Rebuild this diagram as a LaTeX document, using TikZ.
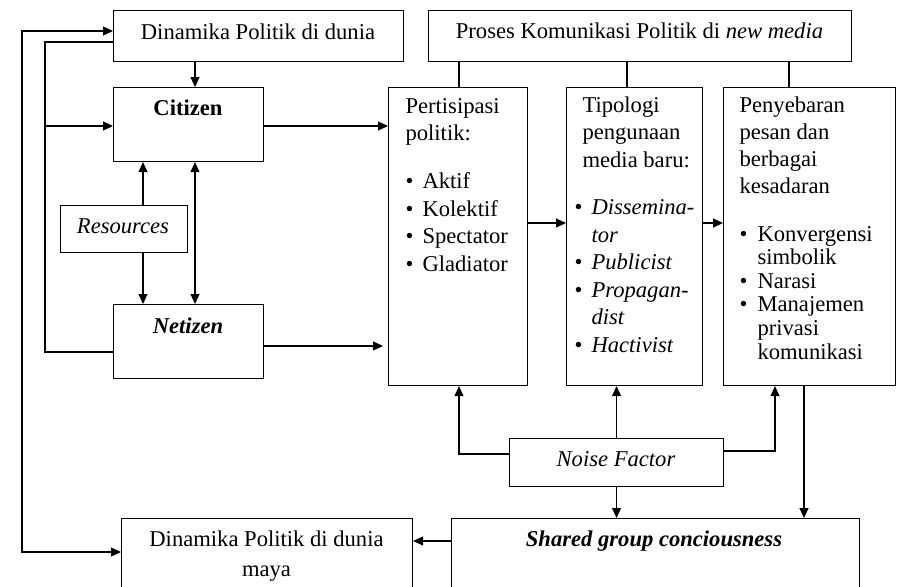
\documentclass[tikz,border=0pt]{standalone}
\usepackage{fontspec}
\setmainfont{Liberation Serif}
\usetikzlibrary{arrows.meta}
\newcommand\blt{\makebox[17pt][l]{\textbullet}}
\begin{document}
\begin{tikzpicture}[x=1pt,y=-1pt,line width=1.1pt,
  box/.style={draw,line width=1.1pt,inner sep=0pt,anchor=north west},
  txt/.style={inner sep=0pt,font=\fontsize{22.6}{27.5}\selectfont},
  arr/.style={-{Triangle[length=10pt,width=9pt]}},
  darr/.style={{Triangle[length=10pt,width=9pt]}-{Triangle[length=10pt,width=9pt]}}]
\useasboundingbox (0,0) rectangle (898,587);
\clip (0,0) rectangle (898,587);
% boxes
\node[box,minimum width=290pt,minimum height=51pt] (dpd) at (113,10) {};
\node[box,minimum width=423pt,minimum height=51pt] (proses) at (428,10) {};
\node[box,minimum width=150pt,minimum height=74pt] (cit) at (113,87) {};
\node[box,minimum width=127pt,minimum height=47pt] (res) at (60,205) {};
\node[box,minimum width=150pt,minimum height=74pt] (net) at (113,304) {};
\node[box,minimum width=139pt,minimum height=298pt] (par) at (388,87) {};
\node[box,minimum width=136pt,minimum height=298pt] (tip) at (566,87) {};
\node[box,minimum width=172pt,minimum height=298pt] (pen) at (723,87) {};
\node[box,minimum width=214pt,minimum height=48pt] (noise) at (509,438) {};
\node[box,minimum width=408pt,minimum height=90pt] (shared) at (451,518) {};
\node[box,minimum width=291pt,minimum height=90pt] (maya) at (121,518) {};
% texts (multi-line nodes: base = baseline of last line)
\node[txt,anchor=base] (tdpd) at (258,39) {Dinamika Politik di dunia};
\node[txt,anchor=base] (tproses) at (639.5,38) {Proses Komunikasi Politik di \textit{new media}};
\node[txt,anchor=base] (tcit) at (188,115) {\textbf{Citizen}};
\node[txt,anchor=base] (tnet) at (188,333) {\textbf{\textit{Netizen}}};
\node[txt,anchor=base] (tres) at (123,233) {\textit{Resources}};
\node[txt,anchor=base] (tnoise) at (616,466) {\textit{Noise Factor}};
\node[txt,anchor=base] (tshared) at (654,546) {\textbf{\textit{Shared group conciousness}}};
\node[txt,anchor=base,align=center] (tmaya) at (266.5,576) {Dinamika Politik di dunia\\[2pt]maya};
\node[txt,anchor=base west,align=left] (tpar) at (405,271) {Pertisipasi\\politik:\\[20.5pt]\blt Aktif\\\blt Kolektif\\\blt Spectator\\\blt Gladiator};
\node[txt,anchor=base west,align=left] (ttip) at (582,167) {Tipologi\\pengunaan\\media baru:};
\node[txt,anchor=base west,align=left] (ltip) at (574,352) {\blt\textit{Dissemina-}\\\hspace*{17pt}\textit{tor}\\\blt\textit{Publicist}\\\blt\textit{Propagan-}\\\hspace*{17pt}\textit{dist}\\\blt\textit{Hactivist}};
\node[txt,anchor=base west,align=left,font=\fontsize{22.6}{26.7}\selectfont] (tpen) at (739,193) {Penyebaran\\pesan dan\\berbagai\\kesadaran};
\node[txt,anchor=base west,align=left,font=\fontsize{22.6}{23.6}\selectfont] (lpen) at (739,359) {\makebox[18pt][l]{\textbullet}Konvergensi\\\hspace*{18pt}simbolik\\\makebox[18pt][l]{\textbullet}Narasi\\\makebox[18pt][l]{\textbullet}Manajemen\\\hspace*{18pt}privasi\\\hspace*{18pt}komunikasi};
% helper coordinates
\coordinate (L1) at (22,31);
\coordinate (L2) at (22,552);
\coordinate (L3) at (45,42);
\coordinate (L4) at (45,352);
\coordinate (xa) at (195,0);
\coordinate (xr) at (143,0);
\coordinate (yC) at (0,126);
\coordinate (yN) at (0,346);
\coordinate (pw) at ([xshift=-5pt]par.west);
\coordinate (yM) at (0,223);
\coordinate (x1) at (459,0);
\coordinate (x2) at (627,0);
\coordinate (x3) at (789,0);
\coordinate (nA) at (459,454);
\coordinate (nB) at (775,451);
\coordinate (x4) at (804,0);
\coordinate (yS) at (0,541);
% connectors
\draw[darr] (L1 -| dpd.west) -- (L1) -- (L2) -- (L2 -| maya.west);
\draw (L3 -| dpd.west) -- (L3) -- (L4) -- (L4 -| net.west);
\draw[arr] (L3 |- yC) -- (cit.west |- yC);
\draw[arr] (dpd.south -| xa) -- (cit.north -| xa);
\draw[darr] (cit.south -| xa) -- (net.north -| xa);
\draw[arr] (res.north -| xr) -- (cit.south -| xr);
\draw[arr] (res.south -| xr) -- (net.north -| xr);
\draw[arr] (cit.east |- yC) -- (par.west |- yC);
\draw[arr] (net.east |- yN) -- (pw |- yN);
\draw[arr] (par.east |- yM) -- (tip.west |- yM);
\draw[arr] (tip.east |- yM) -- (pen.west |- yM);
\draw (proses.south -| x1) -- (par.north -| x1);
\draw (proses.south -| x2) -- (tip.north -| x2);
\draw (proses.south -| x3) -- (pen.north -| x3);
\draw[arr] (noise.west |- nA) -- (nA) -- (nA |- par.south);
\draw[arr] (noise.north) -- (noise.north |- tip.south);
\draw[arr] (noise.east |- nB) -- (nB) -- (nB |- pen.south);
\draw[arr] (noise.south) -- (noise.south |- shared.north);
\draw[arr] (pen.south -| x4) -- (shared.north -| x4);
\draw[arr] (shared.west |- yS) -- (maya.east |- yS);
\end{tikzpicture}
\end{document}
